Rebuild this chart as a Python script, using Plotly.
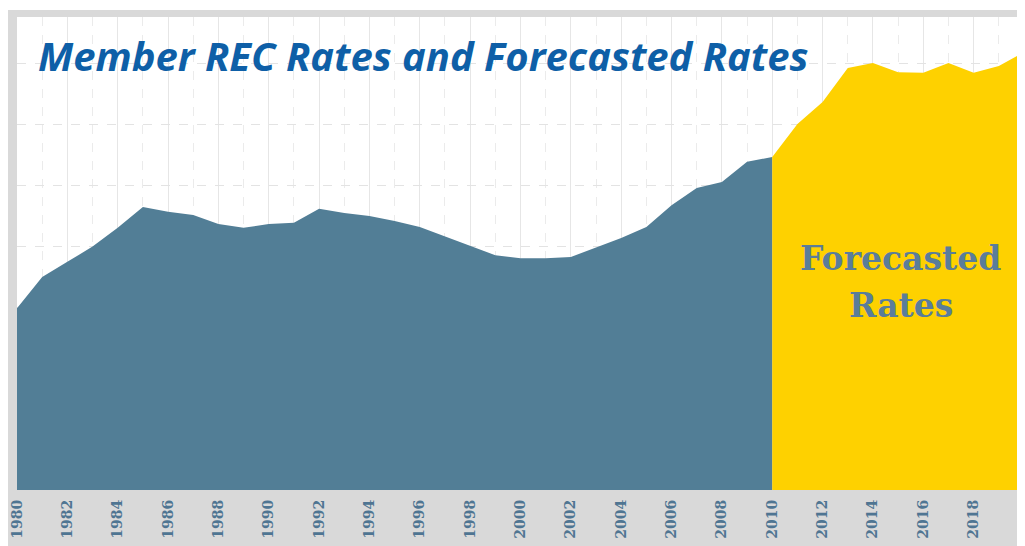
import plotly.graph_objects as go

# Historical member REC rates (index units), 1980-2010
hist_years = list(range(1980, 2011))
hist_rates = [2.98, 3.49, 3.74, 3.99, 4.30, 4.64, 4.56, 4.51, 4.36, 4.30,
              4.36, 4.38, 4.61, 4.54, 4.49, 4.41, 4.31, 4.16, 4.00, 3.85,
              3.80, 3.80, 3.82, 3.97, 4.13, 4.31, 4.67, 4.95, 5.05, 5.38,
              5.46]

# Forecasted rates, 2010-2020
fc_years = list(range(2010, 2021))
fc_rates = [5.46, 6.00, 6.36, 6.92, 7.00, 6.85, 6.84, 7.00, 6.84, 6.95, 7.18]

tick_years = list(range(1980, 2021, 2))
title_text = "Member REC Rates and Forecasted Rates"
forecast_lines = ["Forecasted", "Rates"]

# page has an 8px body margin, so the figure is sized to fill the rest
OFF = 8
W, H = 1025 - OFF, 546 - OFF
ML, MR, MT, MB = 17 - OFF, 1, 17 - OFF, 546 - 490
PW, PH = W - ML - MR, H - MT - MB
PX_PER_UNIT = 61.0
YMAX = (490 - 17) / PX_PER_UNIT


def px_x(page_x):
    return (page_x - OFF - ML) / PW


def px_y(page_y):
    return 1 - (page_y - OFF - MT) / PH


fig = go.Figure()
fig.add_trace(go.Scatter(x=hist_years, y=hist_rates, mode="lines",
                         line=dict(width=0, color="#527e96"),
                         fill="tozeroy", fillcolor="#527e96",
                         hoverinfo="skip", showlegend=False))
fig.add_trace(go.Scatter(x=fc_years, y=fc_rates, mode="lines",
                         line=dict(width=0, color="#fed100"),
                         fill="tozeroy", fillcolor="#fed100",
                         hoverinfo="skip", showlegend=False))

# thin white strip above the gray frame
fig.add_shape(type="rect", xref="paper", yref="paper",
              x0=px_x(0), x1=1.02, y0=px_y(10), y1=px_y(0),
              fillcolor="white", line=dict(width=0), layer="above")

fig.add_annotation(text=title_text, xref="paper", yref="paper",
                   x=px_x(36), y=px_y(55),
                   xanchor="left", yanchor="middle", showarrow=False,
                   font=dict(family="Open Sans", size=40, color="#0e5fa7",
                             weight="bold", style="italic"))

for txt, py in zip(forecast_lines, [258, 305]):
    fig.add_annotation(text=txt, x=2015.1, y=(490 - py) / PX_PER_UNIT,
                       xref="x", yref="y", xanchor="center", yanchor="middle",
                       showarrow=False,
                       font=dict(family="DejaVu Serif", size=33,
                                 color="#5a7d9a", weight="bold"))

fig.update_layout(
    width=W, height=H,
    margin=dict(l=ML, r=MR, t=MT, b=MB, autoexpand=False),
    paper_bgcolor="#d9d9d9", plot_bgcolor="white",
    xaxis=dict(range=[1980, 2020], tickmode="array", tickvals=tick_years,
               ticktext=[str(y) for y in tick_years], tickangle=-90,
               ticks="", ticklabelstandoff=6, automargin=False,
               ticklabeloverflow="allow",
               tickfont=dict(family="DejaVu Serif", size=14, color="#4f7592",
                             weight="bold"),
               showgrid=True, gridcolor="#e6e6e6", gridwidth=1,
               minor=dict(dtick=1, showgrid=True, gridcolor="#ebebeb",
                          griddash="dash"),
               zeroline=False, showline=False),
    yaxis=dict(range=[0, YMAX], dtick=1, showticklabels=False,
               showgrid=True, gridcolor="#e3e3e3", griddash="dash",
               zeroline=False, showline=False, automargin=False),
)

fig.write_html("out.html")
